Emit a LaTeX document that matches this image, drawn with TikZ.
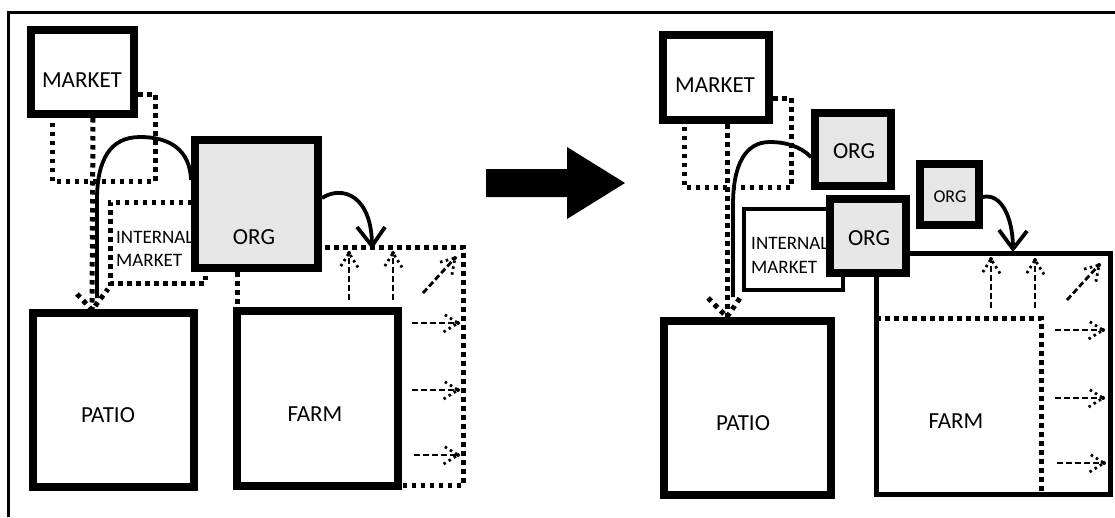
\documentclass[tikz,border=0pt]{standalone}
\usepackage{fontspec}
\setmainfont{Carlito}
\usetikzlibrary{calc}
\definecolor{orggray}{HTML}{E6E6E6}
\tikzset{
  boxb/.style={draw=black,line width=8.5pt,inner sep=0pt,outer sep=0pt},
  orgb/.style={boxb,fill=orggray},
  dotl/.style={line width=5pt,dash pattern=on 4.5pt off 4.5pt},
  curv/.style={line width=3.8pt},
  dshaft/.style={line width=2.8pt,dash pattern=on 6pt off 3pt},
  dhead/.style={line width=2.8pt,dash pattern=on 2.5pt off 3.5pt},
  lab/.style={inner sep=0pt,anchor=base,font=\fontsize{23}{25}\selectfont},
  slab/.style={inner sep=0pt,anchor=base west,font=\fontsize{19}{21}\selectfont},
}
\newcommand\darr[2]{%
  \draw[dshaft] (#1) -- (#2);
  \draw[dhead] ($(#2)!17pt!32:(#1)$) -- (#2) -- ($(#2)!17pt!-32:(#1)$);
  \fill (#2) circle (2pt);}
\begin{document}
\begin{tikzpicture}[x=1pt,y=-1pt]
\useasboundingbox (0,0) rectangle (1115,517);
% frame
\draw[line width=2.8pt] (8.5,517) -- (8.5,12.5) -- (1115,12.5);

% ================= LEFT =================
\coordinate (lm1) at (138,94);
\coordinate (lm2) at (155,94);
\coordinate (lm3) at (155,181);
\coordinate (lm4) at (52,181);
\coordinate (lm5) at (52,118);
\draw[dotl] (lm1) -- (lm2) -- (lm3) -- (lm4) -- (lm5);
\coordinate (lv1) at (93,118);
\coordinate (lv2) at (92,310);
\draw[dotl] (lv1) -- (lv2);
\coordinate (lva) at (77,294);
\coordinate (lvb) at (108,289);
\draw[dotl] (lva) -- (lv2) -- (lvb);
\coordinate (li1) at (192,202);
\coordinate (li2) at (110,202);
\coordinate (li3) at (110,283);
\coordinate (li4) at (205,283);
\coordinate (li5) at (205,272);
\draw[dotl] (li1) -- (li2) -- (li3) -- (li4) -- (li5);
\coordinate (lo1) at (237,272);
\coordinate (lo2) at (237,307);
\draw[dotl] (lo1) -- (lo2);
\coordinate (lf1) at (325,247);
\coordinate (lf2) at (463,247);
\coordinate (lf3) at (463,485);
\coordinate (lf4) at (402,485);
\draw[dotl] (lf1) -- (lf2) -- (lf3) -- (lf4);

\node[slab] (lint1) at (116,243) {INTERNAL};
\node[slab] (lint2) at (116,266) {MARKET};

\node[boxb,minimum width=103pt,minimum height=84pt] (lmarket) at (82.5,72) {};
\node[orgb,minimum width=123pt,minimum height=128pt] (lorg) at (256.5,204) {};
\node[boxb,minimum width=161pt,minimum height=174pt] (lpatio) at (113.5,400) {};
\node[boxb,minimum width=161pt,minimum height=175pt] (lfarm) at (317.5,398.5) {};

\node[lab] (lmarkett) at (82,87) {MARKET};
\node[lab] (lorgt) at (254,244) {ORG};
\node[lab] (lpatiot) at (108,422) {PATIO};
\node[lab] (lfarmt) at (315,421) {FARM};

\coordinate (lc0) at (191,180);
\coordinate (lc1) at (97,298);
\draw[curv] (lc0) .. controls (190,150) and (170,137) .. (140,137)
  .. controls (110,137) and (97,160) .. (97,200) -- (lc1);
\coordinate (lr0) at (322,198);
\coordinate (lr1) at (372,246);
\draw[curv] (lr0) .. controls (342,185) and (372,195) .. (lr1);
\coordinate (lra) at (357,227);
\coordinate (lrb) at (385,227);
\draw[curv] (lra) -- (lr1) -- (lrb);

\coordinate (la1s) at (349,300); \coordinate (la1e) at (349,253);
\coordinate (la2s) at (393,300); \coordinate (la2e) at (393,253);
\coordinate (la3s) at (423,293); \coordinate (la3e) at (455,258);
\coordinate (la4s) at (412,323); \coordinate (la4e) at (458,323);
\coordinate (la5s) at (412,390); \coordinate (la5e) at (458,390);
\coordinate (la6s) at (414,455); \coordinate (la6e) at (458,455);
\darr{la1s}{la1e}
\darr{la2s}{la2e}
\darr{la3s}{la3e}
\darr{la4s}{la4e}
\darr{la5s}{la5e}
\darr{la6s}{la6e}

% ================= BIG ARROW =================
\fill (486,169) -- (567,169) -- (567,147) -- (625,183) -- (567,219) -- (567,197) -- (486,197) -- cycle;

% ================= RIGHT =================
\coordinate (rm1) at (773,98);
\coordinate (rm2) at (791,98);
\coordinate (rm3) at (791,187);
\coordinate (rm4) at (684,187);
\coordinate (rm5) at (684,124);
\draw[dotl] (rm1) -- (rm2) -- (rm3) -- (rm4) -- (rm5);
\coordinate (rv1) at (727,124);
\coordinate (rv2) at (727,317);
\draw[dotl] (rv1) -- (rv2);
\coordinate (rva) at (708,298);
\coordinate (rvb) at (742,295);
\draw[dotl] (rva) -- (rv2) -- (rvb);

\node[draw=black,line width=5pt,inner sep=0pt,minimum width=234pt,minimum height=241pt] (rfarm) at (993,373.5) {};
\coordinate (rf1) at (876,318);
\coordinate (rf2) at (1041,318);
\coordinate (rf3) at (1041,494);
\draw[dotl] (rf1) -- (rf2) -- (rf3);
\node[lab] (rfarmt) at (956,428) {FARM};

\node[draw=black,line width=4.5pt,inner sep=0pt,fill=white,minimum width=99pt,minimum height=81pt] (rint) at (793.5,249.5) {};
\node[slab] (rint1) at (751,249) {INTERNAL};
\node[slab] (rint2) at (751,273) {MARKET};

\node[boxb,minimum width=106pt,minimum height=85pt] (rmarket) at (716,77.5) {};
\node[orgb,minimum width=76pt,minimum height=73pt] (rorg1) at (853,149.5) {};
\node[orgb,minimum width=76pt,minimum height=74pt] (rorg2) at (868,236) {};
\node[orgb,minimum width=59pt,minimum height=61pt] (rorg3) at (949.5,194.5) {};
\node[boxb,minimum width=167pt,minimum height=174pt] (rpatio) at (747.5,408) {};

\node[lab] (rmarkett) at (715,92) {MARKET};
\node[lab] (rorg1t) at (854,158) {ORG};
\node[lab] (rorg2t) at (869,245) {ORG};
\node[lab,font=\fontsize{18}{20}\selectfont] (rorg3t) at (950,202) {ORG};
\node[lab] (rpatiot) at (743,430) {PATIO};

\coordinate (rc0) at (811,157);
\coordinate (rc1) at (733,297);
\draw[curv] (rc0) .. controls (800,146) and (785,142) .. (770,142)
  .. controls (745,142) and (733,165) .. (733,205) -- (rc1);
\coordinate (rr0) at (983,197);
\coordinate (rr1) at (1013,249);
\draw[curv] (rr0) .. controls (1000,193) and (1013,215) .. (rr1);
\coordinate (rra) at (999,230);
\coordinate (rrb) at (1027,231);
\draw[curv] (rra) -- (rr1) -- (rrb);

\coordinate (ra1s) at (991,308); \coordinate (ra1e) at (991,259);
\coordinate (ra2s) at (1035,308); \coordinate (ra2e) at (1035,260);
\coordinate (ra3s) at (1067,300); \coordinate (ra3e) at (1099,265);
\coordinate (ra4s) at (1055,330); \coordinate (ra4e) at (1103,330);
\coordinate (ra5s) at (1055,398); \coordinate (ra5e) at (1103,398);
\coordinate (ra6s) at (1057,463); \coordinate (ra6e) at (1104,463);
\darr{ra1s}{ra1e}
\darr{ra2s}{ra2e}
\darr{ra3s}{ra3e}
\darr{ra4s}{ra4e}
\darr{ra5s}{ra5e}
\darr{ra6s}{ra6e}
\end{tikzpicture}
\end{document}
